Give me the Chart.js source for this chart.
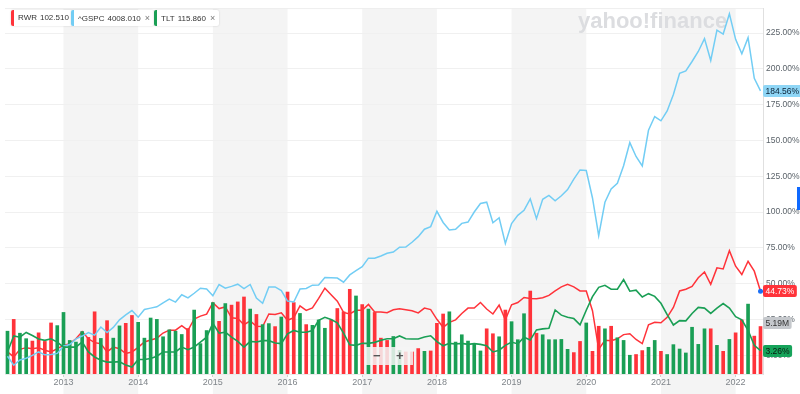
<!DOCTYPE html>
<html>
<head>
<meta charset="utf-8">
<script src="https://cdn.jsdelivr.net/npm/chart.js@4.4.1/dist/chart.umd.min.js"></script>
<style>
html, body { margin: 0; padding: 0; background: #fff; }
#wrap { position: relative; width: 800px; height: 394px; overflow: hidden; font-family: "Liberation Sans", Arial, sans-serif; }
#wrap canvas { position: absolute; left: 0; top: 0; }
.tag { position: absolute; top: 10px; height: 16px; line-height: 16px; background: #fff; border-radius: 2px;
       box-shadow: 0 0 2px rgba(0,0,0,.18); font-size: 8px; color: #333; padding: 0 4px 0 7px; white-space: nowrap; }
.tag i { position: absolute; left: 0; top: 0; bottom: 0; width: 3px; border-radius: 2px 0 0 2px; }
.tag b { font-weight: normal; margin-left: 3px; }
.tag s { text-decoration: none; color: #777; margin-left: 4px; font-size: 9px; }
#zoomer { position: absolute; left: 365px; top: 347px; width: 48px; height: 18px; background: rgba(244,244,244,.85);
          color: #555; font-size: 13px; font-weight: bold; line-height: 18px; }
#zoomer span { position: absolute; top: 0; }
#edge { position: absolute; left: 797px; top: 187px; width: 3px; height: 23px; background: #0f69ff; }
</style>
</head>
<body>
<div id="wrap">
  <canvas id="grafico" width="800" height="394"></canvas>
  <div class="tag" style="left:11px"><i style="background:#ff333a"></i>RWR<b>102.510</b></div>
  <div class="tag" style="left:71px"><i style="background:#72cdf4"></i>^GSPC<b>4008.010</b><s>&#215;</s></div>
  <div class="tag" style="left:154px"><i style="background:#1a9f55"></i>TLT<b>115.860</b><s>&#215;</s></div>
  <div id="zoomer"><span style="left:8px">&#8722;</span><span style="left:31px">+</span></div>
  <div id="edge"></div>
</div>
<script>
// meses de 2012-04 ate 2022-05
var primeiroMes = '2012-04';
var ultimoMes = '2022-05';
var anos = ['2013', '2014', '2015', '2016', '2017', '2018', '2019', '2020', '2021', '2022'];
var ticksPct = [0, 25, 50, 75, 100, 125, 150, 175, 200, 225];

// variacao % desde o inicio
var gspc = [
    -0.7, -7.0, -3.3, -2.1, -0.1, 2.3, 0.3, 0.5, 1.3,
    6.4, 7.5, 11.4, 13.4, 15.8, 14.0, 19.7, 15.9, 19.4, 24.7, 28.2, 31.2,
    26.6, 32.0, 32.9, 33.8, 36.6, 39.2, 37.1, 42.2, 40.0, 43.3, 46.8, 46.2,
    41.6, 49.4, 46.8, 48.1, 49.6, 46.5, 49.4, 40.0, 36.3, 47.6, 47.7, 45.1,
    37.8, 37.2, 46.2, 46.6, 48.9, 49.0, 54.3, 54.1, 53.9, 51.0, 56.1, 59.0,
    61.8, 67.8, 67.8, 69.3, 71.2, 72.1, 75.4, 75.5, 78.9, 82.8, 88.0, 89.8,
    100.5, 92.7, 87.5, 88.0, 92.1, 93.0, 100.0, 106.0, 106.9, 92.5, 96.0, 78.0,
    92.0, 97.7, 101.2, 109.2, 95.4, 108.9, 111.6, 107.8, 111.4, 115.7, 123.0, 129.4,
    129.0, 109.8, 83.5, 106.8, 116.1, 120.1, 132.3, 148.5, 138.8, 132.2, 157.1, 166.7,
    163.7, 170.6, 182.1, 196.9, 198.5, 205.1, 212.1, 221.1, 205.8, 227.0, 224.3, 238.4,
    220.6, 210.5, 221.7, 193.4, 184.56
];
var rwr = [
    2.3, -1.2, 4.1, 5.3, 4.6, 5.3, 3.5, 2.3, 4.6,
    6.9, 8.1, 11.5, 16.5, 11.5, 8.8, 8.1, 2.3, 5.7, 4.6, 1.2, 2.3,
    5.5, 9.3, 10.7, 11.9, 15.5, 17.5, 17.5, 20.7, 17.3, 25.3, 27.3, 28.7,
    36.7, 32.6, 33.7, 26.2, 25.6, 21.3, 24.0, 20.2, 20.0, 28.8, 28.5, 29.6,
    24.4, 26.2, 34.5, 31.3, 33.1, 39.7, 46.8, 42.3, 37.8, 29.9, 28.8, 31.4,
    31.4, 35.5, 30.2, 30.2, 29.7, 31.7, 32.5, 31.8, 31.1, 29.6, 32.9, 31.9,
    25.1, 19.5, 23.0, 24.7, 29.2, 32.9, 32.9, 36.8, 32.3, 28.8, 35.0, 24.7,
    35.2, 36.8, 40.3, 39.7, 39.5, 40.1, 41.8, 44.9, 47.7, 49.5, 47.7, 44.9,
    44.9, 31.1, 4.1, 10.4, 10.2, 11.5, 14.4, 15.0, 11.0, 8.1, 21.3, 23.0,
    22.7, 26.5, 33.4, 44.9, 46.1, 48.0, 54.1, 58.2, 49.5, 61.0, 60.3, 73.0,
    62.2, 56.4, 65.6, 58.7, 44.73
];
var tlt = [
    2.3, 13.5, 12.6, 15.9, 13.8, 11.4, 10.4, 11.5, 9.2,
    5.7, 5.7, 5.7, 9.3, 2.3, -1.2, -3.5, -4.8, -4.8, -4.5, -6.9, -8.3,
    -3.0, -3.0, -2.3, -0.7, 2.3, 2.3, 2.3, 5.7, 3.9, 5.7, 9.2, 12.6,
    22.3, 15.4, 16.1, 12.6, 9.7, 5.7, 9.7, 9.2, 10.2, 10.2, 8.6, 8.1,
    15.0, 17.3, 16.1, 16.1, 17.3, 24.4, 26.5, 25.0, 22.7, 15.5, 7.3, 6.9,
    8.3, 8.3, 9.0, 10.4, 11.5, 11.5, 13.5, 11.5, 11.3, 11.3, 12.8, 13.6,
    9.5, 6.6, 8.3, 7.9, 8.3, 7.6, 8.1, 7.6, 6.6, 2.3, 3.5, 6.9,
    9.2, 7.9, 12.6, 10.6, 17.7, 18.4, 18.8, 31.6, 28.0, 26.5, 25.6, 21.3,
    31.4, 40.9, 47.4, 48.8, 46.1, 46.1, 52.8, 44.7, 45.4, 40.7, 43.0, 41.1,
    36.3, 28.3, 21.1, 24.2, 24.0, 29.2, 33.4, 32.9, 29.2, 32.9, 36.1, 32.9,
    26.9, 24.7, 17.3, 6.9, 3.26
];

// volume RWR (milhoes) e se o mes fechou em alta (1) ou baixa (0)
var volume = [
    4.68, 5.97, 4.46, 3.86, 3.60, 4.50, 3.56, 5.58, 5.29,
    6.73, 3.67, 3.49, 4.64, 4.00, 6.80, 3.89, 5.83, 3.92, 5.26, 5.54, 6.40,
    5.65, 3.92, 6.12, 5.97, 4.07, 4.83, 4.68, 4.32, 4.97, 6.99, 3.32, 4.75,
    7.81, 5.76, 7.70, 7.53, 7.88, 8.42, 7.10, 6.51, 5.40, 5.51, 5.18, 6.23,
    8.96, 7.81, 6.62, 5.40, 5.32, 5.91, 5.00, 5.91, 7.16, 6.80, 9.26, 8.53,
    7.59, 7.10, 6.73, 3.92, 3.67, 4.10, 2.59, 2.41, 2.41, 2.78, 2.48, 2.52,
    5.54, 6.56, 6.80, 3.49, 4.29, 3.60, 3.32, 2.52, 4.94, 4.40, 4.07, 6.99,
    5.72, 3.75, 6.59, 9.07, 4.46, 4.29, 3.75, 3.75, 3.78, 2.70, 2.34, 3.56,
    5.58, 2.48, 5.22, 4.94, 5.22, 3.96, 3.67, 2.05, 2.13, 2.56, 2.92, 3.67,
    2.48, 2.13, 3.21, 2.73, 2.30, 5.11, 3.24, 4.94, 4.94, 3.13, 2.48, 3.78,
    4.50, 5.91, 7.64, 4.14, 5.19
];
var alta = [
    1, 0, 1, 1, 0, 0, 0, 0, 1,
    1, 1, 1, 1, 0, 0, 1, 0, 1, 1, 0, 0,
    1, 1, 1, 1, 1, 1, 1, 1, 0, 1, 1, 1,
    1, 0, 1, 0, 0, 0, 1, 0, 1, 1, 0, 1,
    0, 0, 1, 0, 1, 1, 1, 0, 0, 0, 0, 1,
    0, 1, 0, 0, 0, 1, 1, 0, 0, 0, 1, 0,
    0, 0, 1, 1, 1, 1, 1, 1, 0, 0, 1, 0,
    1, 1, 1, 0, 0, 1, 1, 1, 1, 1, 0, 0,
    1, 0, 0, 1, 0, 1, 1, 1, 0, 0, 1, 1,
    0, 1, 1, 1, 1, 1, 1, 1, 0, 1, 0, 1,
    0, 0, 1, 0, 0
];

var VERMELHO = '#ff333a';
var AZUL = '#72cdf4';
var VERDE = '#1a9f55';

// indice do mes contado a partir de jan/2013
function IndiceMes(txt) {
    var p = txt.split('-');
    return (parseInt(p[0]) - 2013) * 12 + parseInt(p[1]) - 1;
}

function Pontos(valores) {
    var ini = IndiceMes(primeiroMes);
    return valores.map(function (v, i) { return { x: ini + i, y: v }; });
}

function Ultimo(a) { return a[a.length - 1]; }

Chart.defaults.font.family = '"Liberation Sans", Arial, sans-serif';

var faixas = {
    id: 'faixas',
    beforeDraw: function (chart) {
        var ctx = chart.ctx, x = chart.scales.x, area = chart.chartArea;
        ctx.save();
        ctx.fillStyle = '#f4f4f4';
        for (var i = 0; i < anos.length; i += 2) {
            var a = x.getPixelForValue(i * 12);
            var b = Math.min(x.getPixelForValue(i * 12 + 12), area.right);
            ctx.fillRect(a, area.top, b - a, chart.height - area.top);
        }
        ctx.strokeStyle = '#eeeeee';
        ctx.lineWidth = 1;
        ctx.beginPath();
        ctx.moveTo(area.left, area.top + 0.5);
        ctx.lineTo(area.right, area.top + 0.5);
        ctx.stroke();
        ctx.restore();
    },
    beforeDatasetsDraw: function (chart) {
        var ctx = chart.ctx;
        ctx.save();
        ctx.fillStyle = '#dcdde0';
        ctx.font = 'bold 22px "Liberation Sans", Arial, sans-serif';
        ctx.textBaseline = 'alphabetic';
        ctx.fillText('yahoo!finance', 578, 28);
        ctx.restore();
    }
};

function Etiqueta(ctx, y, texto, fundo, cor) {
    ctx.font = '8.5px "Liberation Sans", Arial, sans-serif';
    var w = ctx.measureText(texto).width + 5;
    ctx.fillStyle = fundo;
    ctx.beginPath();
    ctx.roundRect(763, Math.round(y) - 6, w, 12, 2);
    ctx.fill();
    ctx.fillStyle = cor;
    ctx.textBaseline = 'middle';
    ctx.textAlign = 'left';
    ctx.fillText(texto, 765.5, Math.round(y) + 0.5);
}

var etiquetas = {
    id: 'etiquetas',
    afterDraw: function (chart) {
        var ctx = chart.ctx, y = chart.scales.y, v = chart.scales.v, x = chart.scales.x;
        ctx.save();
        Etiqueta(ctx, y.getPixelForValue(Ultimo(gspc)), Ultimo(gspc).toFixed(2) + '%', '#8fd6f6', '#0b2236');
        Etiqueta(ctx, y.getPixelForValue(Ultimo(rwr)), Ultimo(rwr).toFixed(2) + '%', VERMELHO, '#ffffff');
        Etiqueta(ctx, v.getPixelForValue(Ultimo(volume)) - 4, Ultimo(volume).toFixed(2) + 'M', '#c5c8cc', '#333333');
        Etiqueta(ctx, y.getPixelForValue(Ultimo(tlt)), Ultimo(tlt).toFixed(2) + '%', '#16a35a', '#0a1a10');
        var px = x.getPixelForValue(IndiceMes(ultimoMes));
        ctx.fillStyle = '#1b6ff5';
        ctx.beginPath();
        ctx.arc(px, y.getPixelForValue(Ultimo(rwr)), 2.5, 0, Math.PI * 2);
        ctx.fill();
        ctx.restore();
    }
};

var ctx = document.getElementById('grafico').getContext('2d');

var grafico = new Chart(ctx, {
    type: 'bar',
    data: {
        datasets: [{
            type: 'line',
            label: 'RWR',
            data: Pontos(rwr),
            yAxisID: 'y',
            borderColor: VERMELHO,
            borderWidth: 1.5,
            pointRadius: 0,
            tension: 0,
            order: 4
        }, {
            type: 'bar',
            label: 'Volume',
            data: Pontos(volume),
            yAxisID: 'v',
            backgroundColor: alta.map(function (a) { return a ? VERDE : VERMELHO; }),
            barThickness: 3,
            order: 3
        }, {
            type: 'line',
            label: '^GSPC',
            data: Pontos(gspc),
            yAxisID: 'y',
            borderColor: AZUL,
            borderWidth: 1.5,
            pointRadius: 0,
            tension: 0,
            order: 2
        }, {
            type: 'line',
            label: 'TLT',
            data: Pontos(tlt),
            yAxisID: 'y',
            borderColor: VERDE,
            borderWidth: 1.6,
            pointRadius: 0,
            tension: 0,
            order: 1
        }]
    },
    options: {
        responsive: false,
        animation: false,
        layout: { padding: { left: 5, top: 4, right: 0, bottom: 0 } },
        plugins: {
            legend: { display: false },
            tooltip: { enabled: false },
            title: { display: false }
        },
        scales: {
            x: {
                type: 'linear',
                offset: false,
                min: -9.4,
                max: 112.4,
                afterBuildTicks: function (s) {
                    s.ticks = anos.map(function (a, i) { return { value: i * 12 }; });
                },
                afterFit: function (s) { s.height = 20; },
                ticks: {
                    callback: function (v) { return anos[Math.round(v / 12)]; },
                    font: { size: 9 },
                    color: '#80868b',
                    padding: 0,
                    maxRotation: 0,
                    autoSkip: false
                },
                grid: { drawOnChartArea: false, offset: false, tickLength: 3, color: '#d0d0d0' },
                border: { color: '#ebebeb' }
            },
            y: {
                position: 'right',
                min: -13.1,
                max: 242.4,
                afterBuildTicks: function (s) {
                    s.ticks = ticksPct.map(function (t) { return { value: t }; });
                },
                afterFit: function (s) { s.width = 37; },
                ticks: {
                    callback: function (v) { return v.toFixed(2) + '%'; },
                    font: { size: 8.5 },
                    color: '#5b636a',
                    padding: 3
                },
                grid: { color: '#f0f0f0', drawTicks: false },
                border: { color: '#e0e0e0' }
            },
            v: { display: false, min: 0, max: 40 }
        }
    },
    plugins: [faixas, etiquetas]
});
</script>
</body>
</html>
